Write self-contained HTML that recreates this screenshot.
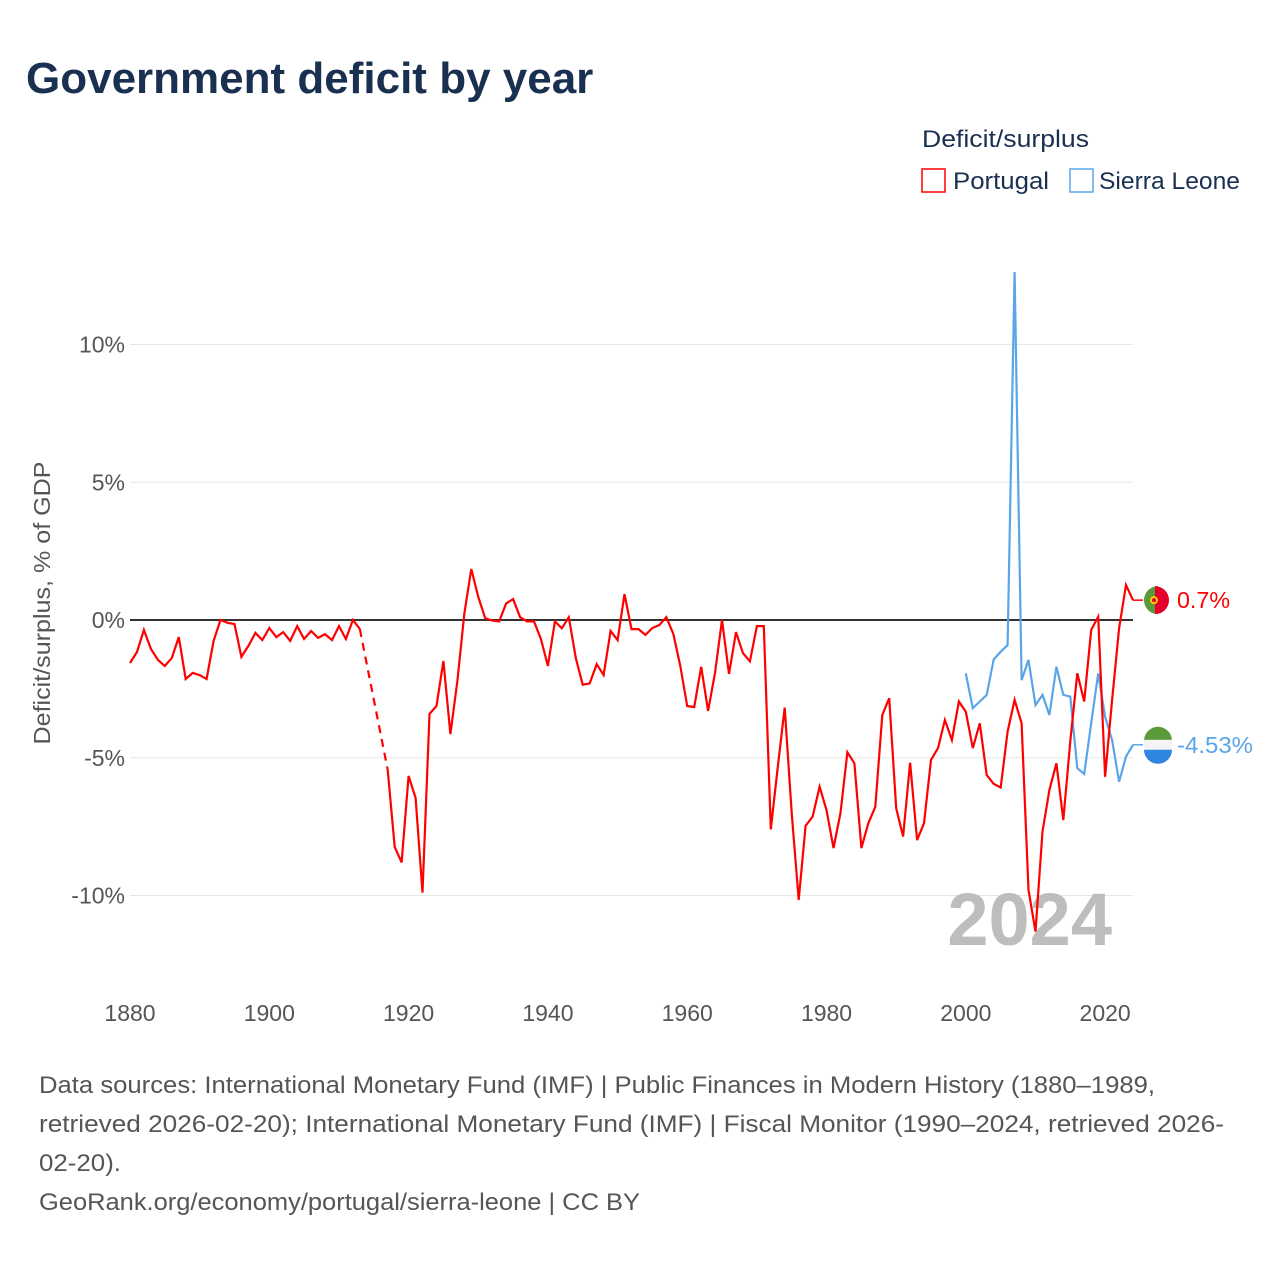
<!DOCTYPE html>
<html><head><meta charset="utf-8">
<style>
body{margin:0;background:#fff;font-family:"Liberation Sans",sans-serif;}
#wrap{position:relative;width:1280px;height:1280px;overflow:hidden;}
</style></head>
<body>
<div id="wrap">
<svg id="chart" width="1280" height="1280" xmlns="http://www.w3.org/2000/svg">
<text x="26" y="93" font-size="44" font-weight="bold" fill="#1a3050">Government deficit by year</text>
<text x="922" y="147" font-size="24" fill="#1a3050" textLength="167" lengthAdjust="spacingAndGlyphs">Deficit/surplus</text>
<g>
<rect x="922" y="169" width="23" height="23" fill="none" stroke="#ff0000" stroke-width="1.5"/>
<text x="953" y="189" font-size="24" fill="#1a3050" textLength="96" lengthAdjust="spacingAndGlyphs">Portugal</text></g>
<g>
<rect x="1070" y="169" width="23" height="23" fill="none" stroke="#5aa5e8" stroke-width="1.5"/>
<text x="1099" y="189" font-size="24" fill="#1a3050" textLength="141" lengthAdjust="spacingAndGlyphs">Sierra Leone</text></g>
<g id="grid"></g>
<g id="yticks"></g>
<g id="xticks"></g>
<text transform="translate(50,603) rotate(-90)" text-anchor="middle" font-size="23" fill="#555" textLength="283" lengthAdjust="spacingAndGlyphs">Deficit/surplus, % of GDP</text>
<text x="1112" y="945" text-anchor="end" font-size="74" font-weight="bold" fill="#bdbdbd">2024</text>
<g id="series"></g>
<g font-size="24" fill="#555">
<text x="39" y="1093" textLength="1116" lengthAdjust="spacingAndGlyphs">Data sources: International Monetary Fund (IMF) | Public Finances in Modern History (1880–1989,</text>
<text x="39" y="1132" textLength="1185" lengthAdjust="spacingAndGlyphs">retrieved 2026-02-20); International Monetary Fund (IMF) | Fiscal Monitor (1990–2024, retrieved 2026-</text>
<text x="39" y="1171" textLength="82" lengthAdjust="spacingAndGlyphs">02-20).</text>
<text x="39" y="1210" textLength="601" lengthAdjust="spacingAndGlyphs">GeoRank.org/economy/portugal/sierra-leone | CC BY</text>
</g>
</svg>
</div>
<script>
const xTicks=[1880,1900,1920,1940,1960,1980,2000,2020];
const yTicks=[10,5,0,-5,-10];
const yTickLabels=["10%","5%","0%","-5%","-10%"];
const ptYears=[1880,1881,1882,1883,1884,1885,1886,1887,1888,1889,1890,1891,1892,1893,1894,1895,1896,1897,1898,1899,1900,1901,1902,1903,1904,1905,1906,1907,1908,1909,1910,1911,1912,1913,1917,1918,1919,1920,1921,1922,1923,1924,1925,1926,1927,1928,1929,1930,1931,1932,1933,1934,1935,1936,1937,1938,1939,1940,1941,1942,1943,1944,1945,1946,1947,1948,1949,1950,1951,1952,1953,1954,1955,1956,1957,1958,1959,1960,1961,1962,1963,1964,1965,1966,1967,1968,1969,1970,1971,1972,1973,1974,1975,1976,1977,1978,1979,1980,1981,1982,1983,1984,1985,1986,1987,1988,1989,1990,1991,1992,1993,1994,1995,1996,1997,1998,1999,2000,2001,2002,2003,2004,2005,2006,2007,2008,2009,2010,2011,2012,2013,2014,2015,2016,2017,2018,2019,2020,2021,2022,2023,2024];
const ptValues=[-1.56,-1.16,-0.36,-1.05,-1.45,-1.67,-1.38,-0.62,-2.14,-1.92,-2.0,-2.14,-0.76,0,-0.1,-0.15,-1.34,-0.94,-0.47,-0.73,-0.29,-0.62,-0.44,-0.76,-0.22,-0.69,-0.4,-0.65,-0.51,-0.73,-0.22,-0.69,0,-0.33,-5.44,-8.24,-8.8,-5.66,-6.46,-9.9,-3.41,-3.12,-1.49,-4.14,-2.21,0.22,1.85,0.83,0.07,-0.02,-0.05,0.6,0.76,0.1,-0.05,-0.05,-0.7,-1.67,-0.05,-0.3,0.1,-1.38,-2.35,-2.3,-1.6,-2.0,-0.4,-0.73,0.94,-0.33,-0.33,-0.54,-0.29,-0.18,0.1,-0.5,-1.67,-3.12,-3.16,-1.7,-3.3,-1.9,0,-1.96,-0.44,-1.2,-1.5,-0.22,-0.22,-7.6,-5.33,-3.18,-7.0,-10.16,-7.47,-7.14,-6.05,-6.9,-8.28,-7.0,-4.8,-5.2,-8.28,-7.38,-6.78,-3.45,-2.84,-6.83,-7.86,-5.18,-7.99,-7.38,-5.08,-4.65,-3.63,-4.36,-2.96,-3.33,-4.65,-3.75,-5.63,-5.95,-6.08,-4.05,-2.9,-3.75,-9.8,-11.31,-7.68,-6.17,-5.2,-7.26,-4.4,-1.93,-2.96,-0.36,0.12,-5.69,-2.9,-0.3,1.27,0.72];
const slYears=[2000,2001,2002,2003,2004,2005,2006,2007,2008,2009,2010,2011,2012,2013,2014,2015,2016,2017,2018,2019,2020,2021,2022,2023,2024];
const slValues=[-1.94,-3.2,-2.96,-2.72,-1.43,-1.15,-0.91,12.63,-2.18,-1.45,-3.09,-2.72,-3.45,-1.7,-2.72,-2.78,-5.38,-5.59,-3.75,-1.94,-3.51,-4.36,-5.87,-4.96,-4.53];

const NS="http://www.w3.org/2000/svg";
const X0=130,X1=1133,Y1880=1880,Y2024=2024;
const xs=y=>X0+(y-Y1880)*(X1-X0)/(Y2024-Y1880);
const ys=v=>620-v*27.55;
function mk(tag,attrs,parent){const e=document.createElementNS(NS,tag);for(const k in attrs)e.setAttribute(k,attrs[k]);parent.appendChild(e);return e;}
const grid=document.getElementById('grid'),yt=document.getElementById('yticks'),xt=document.getElementById('xticks'),ser=document.getElementById('series');
yTicks.forEach((v,i)=>{
  if(v!==0){const l=mk('line',{x1:X0,x2:X1,y1:ys(v),y2:ys(v),stroke:'#e6e6e6','stroke-width':1},grid);
  
  }
  const t=mk('text',{x:125,y:ys(v)+8,'text-anchor':'end','font-size':23,fill:'#555'},yt);
  t.textContent=yTickLabels[i];
  
  
});
xTicks.forEach(y=>{
  const t=mk('text',{x:xs(y),y:1021,'text-anchor':'middle','font-size':23,fill:'#555'},xt);
  t.textContent=y;
  
  
});
const zl=mk('line',{x1:X0,x2:X1,y1:ys(0),y2:ys(0),stroke:'#333','stroke-width':2},grid);



function drawSeries(years,vals,color,name){
  let seg=[],segs=[];
  for(let i=0;i<years.length;i++){
    if(i>0&&years[i]-years[i-1]>1){
      segs.push(seg);
      const d=mk('line',{x1:xs(years[i-1]),y1:ys(vals[i-1]),x2:xs(years[i]),y2:ys(vals[i]),stroke:color,'stroke-width':2.2,'stroke-dasharray':'8,6'},ser);
      
      
      seg=[];
    }
    seg.push(xs(years[i]).toFixed(1)+','+ys(vals[i]).toFixed(1));
  }
  segs.push(seg);
  segs.forEach(s=>{
    const p=mk('polyline',{points:s.join(' '),fill:'none',stroke:color,'stroke-width':2.2,'stroke-linejoin':'miter'},ser);
    
    
  });
}
drawSeries(slYears,slValues,'#5aa5e8','sierra-leone');
drawSeries(ptYears,ptValues,'#ff0000','portugal');

const ptLast=ptValues[ptValues.length-1], slLast=slValues[slValues.length-1];
const lx=xs(2024);
const c1=mk('line',{x1:lx,x2:lx+10,y1:ys(ptLast),y2:ys(ptLast),stroke:'#ff0000','stroke-width':1.5},ser);


const c2=mk('line',{x1:lx,x2:lx+10,y1:ys(slLast),y2:ys(slLast),stroke:'#5aa5e8','stroke-width':1.5},ser);


const fx=1158;
const pf=mk('g',{},ser);


const py=ys(ptLast);
mk('path',{d:`M${fx} ${py-14} A14 14 0 0 0 ${fx} ${py+14} Z`,fill:'#5a9a3a'},pf);
mk('path',{d:`M${fx-3} ${py-14} A14 14 0 0 1 ${fx-3} ${py+14} Z`,fill:'#e4002b'},pf);
mk('circle',{cx:fx-4,cy:py,r:4,fill:'#f5d000'},pf);
mk('circle',{cx:fx-4,cy:py,r:2,fill:'#e4002b'},pf);
const sf=mk('g',{},ser);


const sy=ys(slLast);
mk('path',{d:`M${fx-14} ${sy-4} A14 14 0 0 1 ${fx+14} ${sy-4} Z`,fill:'#5a9a3a'},sf);
mk('rect',{x:fx-14,y:sy-5,width:28,height:10,fill:'#f4f4f4'},sf);
mk('path',{d:`M${fx-14} ${sy+5} A14 14 0 0 0 ${fx+14} ${sy+5} Z`,fill:'#2e86de'},sf);
const t1=mk('text',{x:1177,y:py+8,'font-size':23,fill:'#ff0000',textLength:53,lengthAdjust:'spacingAndGlyphs'},ser);
t1.textContent=ptLast.toFixed(1)+'%';


const t2=mk('text',{x:1177,y:sy+8,'font-size':23,fill:'#5aa5e8',textLength:76,lengthAdjust:'spacingAndGlyphs'},ser);
t2.textContent=slLast.toFixed(2)+'%';


</script>
</body></html>
